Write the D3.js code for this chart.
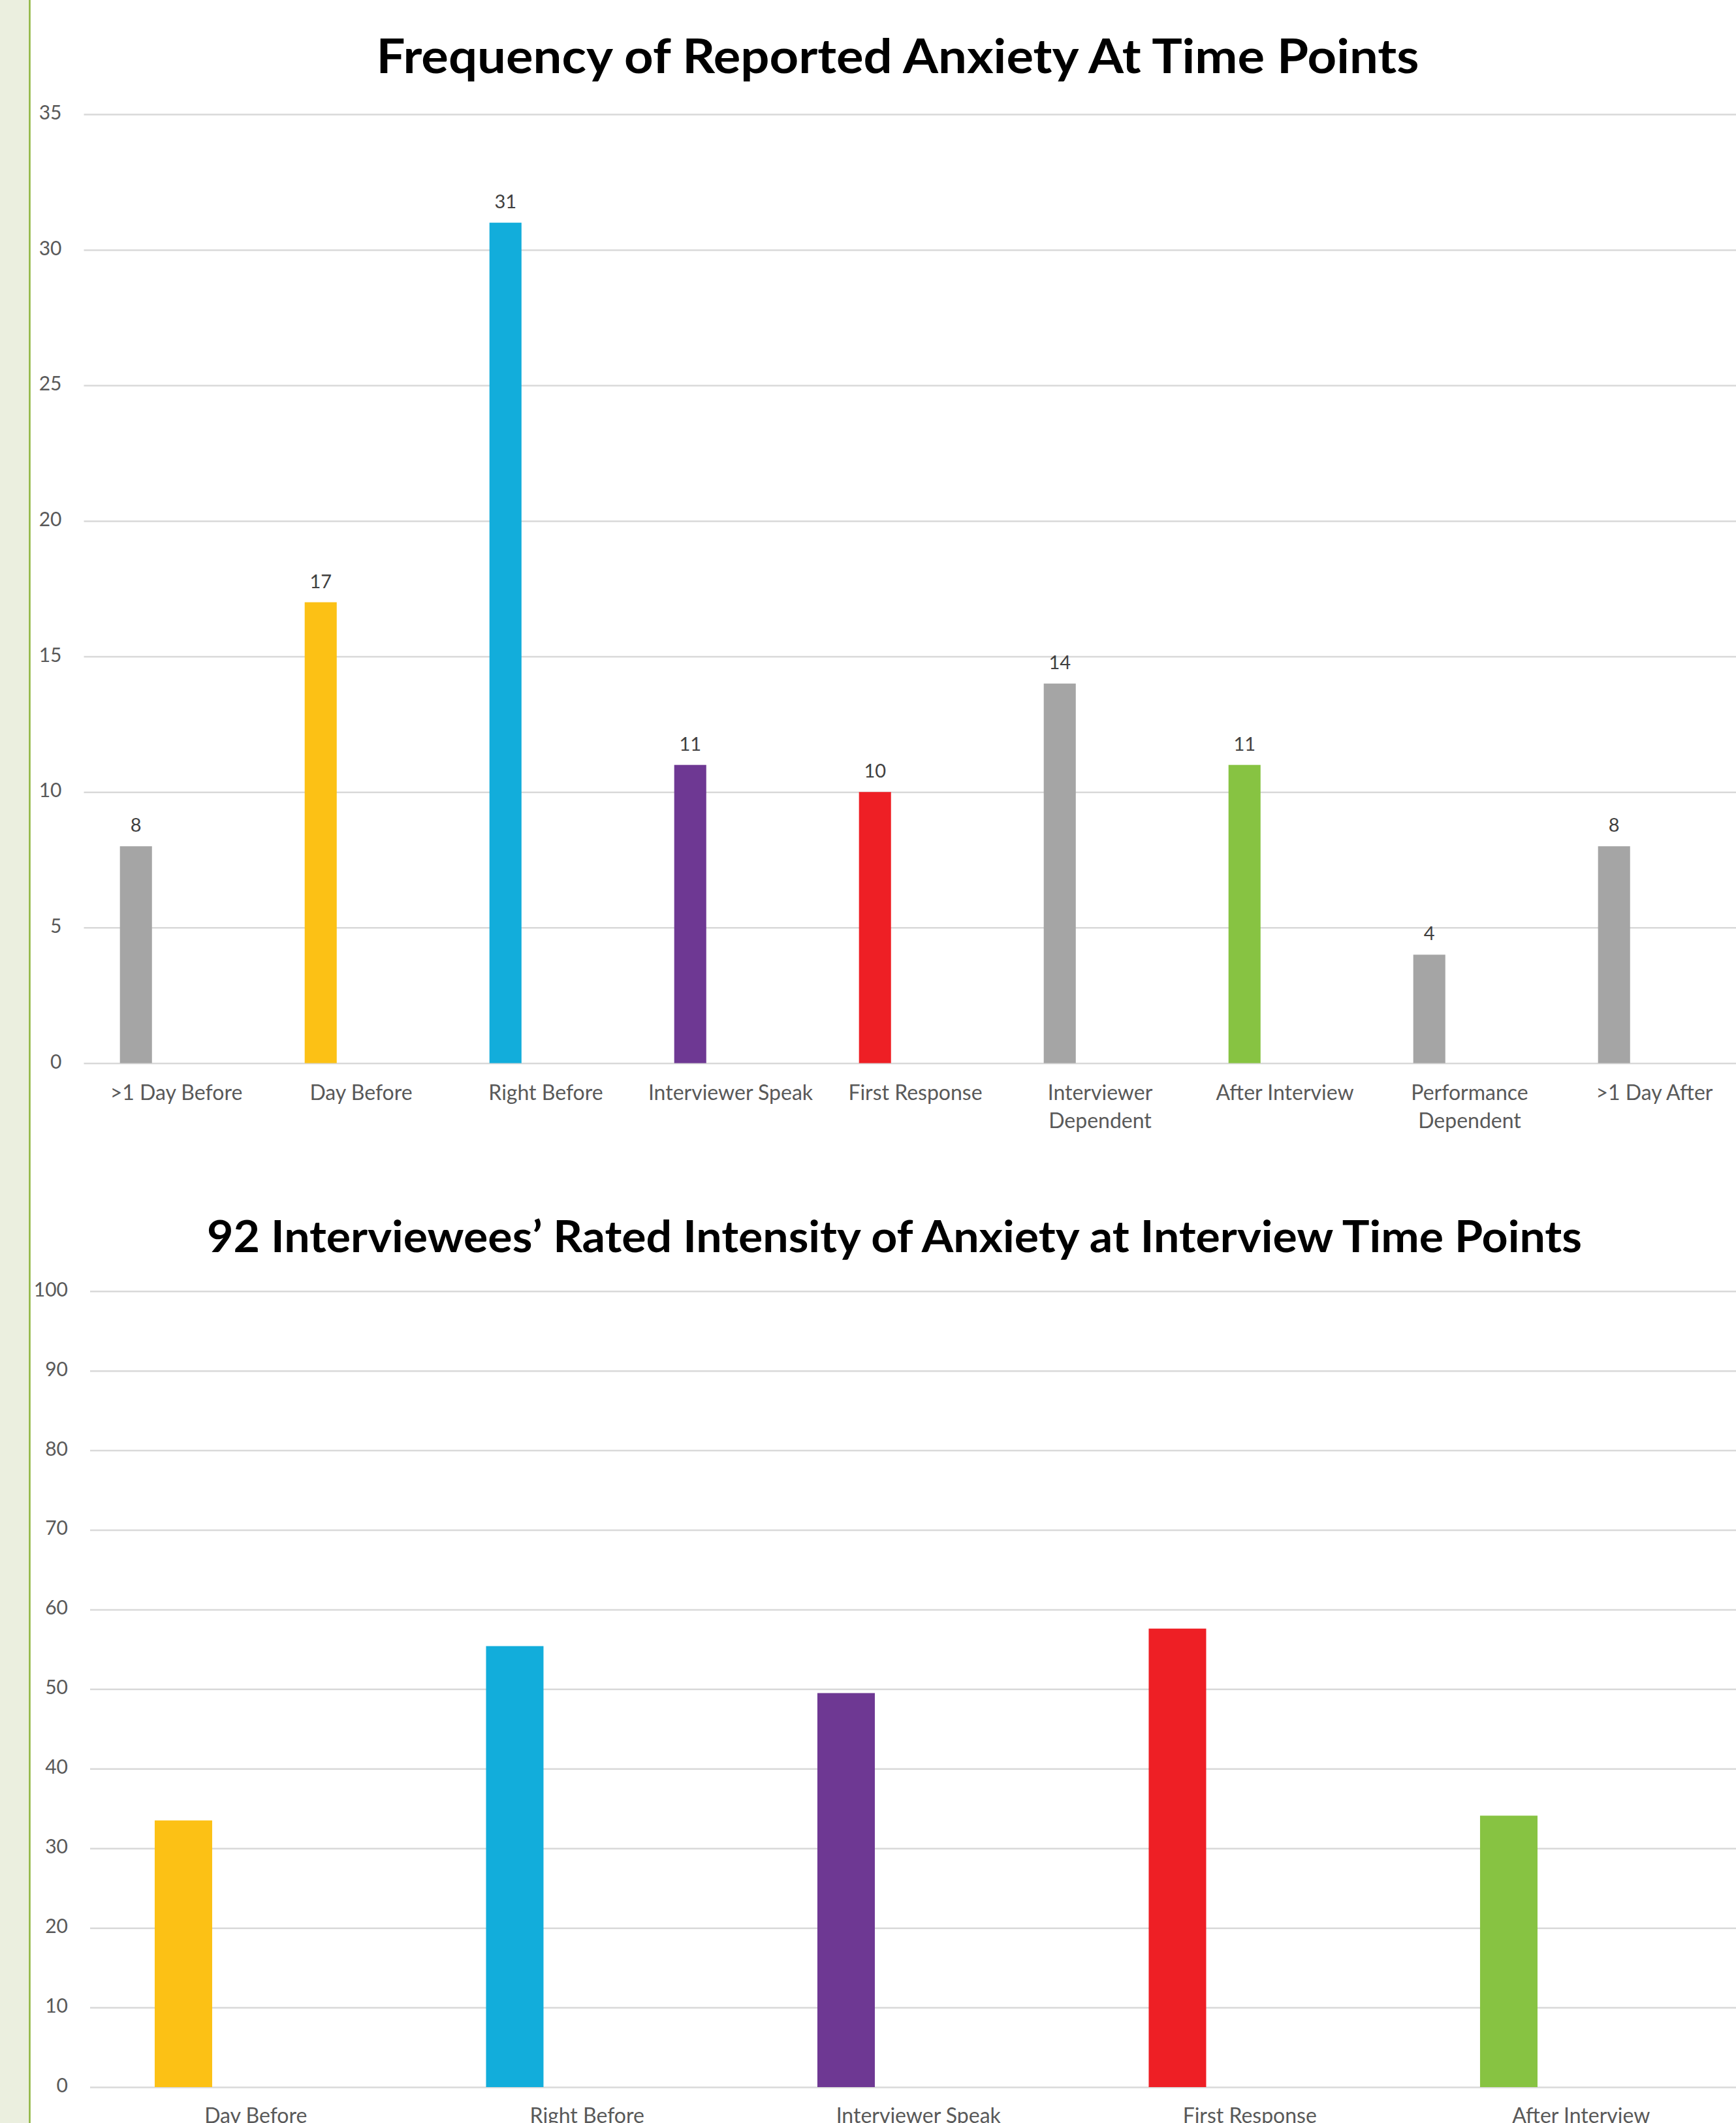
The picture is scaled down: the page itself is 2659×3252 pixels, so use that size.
<!DOCTYPE html>
<html>
<head>
<meta charset="utf-8">
<script src="https://cdn.jsdelivr.net/npm/d3@7"></script>
<style>
  body { margin: 0; background: #fff; }
  text { font-family: Lato, "Open Sans", sans-serif; }
</style>
</head>
<body>
<div id="chart"></div>
<script>

// top chart: how often anxiety was reported at each time point
var freqCategories = [">1 Day Before", "Day Before", "Right Before", "Interviewer Speak",
    "First Response", "Interviewer Dependent", "After Interview", "Performance Dependent", ">1 Day After"];
var freqValues = [8, 17, 31, 11, 10, 14, 11, 4, 8];
var freqColors = ["#A5A5A5", "#FCC115", "#12ADDB", "#6E3893", "#EE1F25", "#A5A5A5", "#87C342", "#A5A5A5", "#A5A5A5"];
var freqTicks = [0, 5, 10, 15, 20, 25, 30, 35];

// bottom chart: rated intensity (0-100)
var intensityCategories = ["Day Before", "Right Before", "Interviewer Speak", "First Response", "After Interview"];
var intensityValues = [33.5, 55.4, 49.5, 57.6, 34.1];
var intensityColors = ["#FCC115", "#12ADDB", "#6E3893", "#EE1F25", "#87C342"];
var intensityTicks = [0, 10, 20, 30, 40, 50, 60, 70, 80, 90, 100];

var W = 2659, H = 3252;

var svg = d3.select("#chart").append("svg")
    .attr("width", W)
    .attr("height", H);

// green side strip
svg.append("rect")
    .attr("x", 0).attr("y", 0)
    .attr("width", 45).attr("height", H)
    .attr("fill", "#EBEFDF");
svg.append("line")
    .attr("x1", 45.5).attr("x2", 45.5)
    .attr("y1", 0).attr("y2", H)
    .attr("stroke", "#8CB43C")
    .attr("stroke-width", 2.5);

function drawChart(cfg) {

    var g = svg.append("g");

    var x = d3.scaleBand()
        .domain(cfg.categories)
        .range([cfg.left, cfg.left + cfg.band * cfg.categories.length]);

    var y = d3.scaleLinear()
        .domain([0, cfg.max])
        .range([cfg.bottom, cfg.top]);

    var bw = x.bandwidth();

    // gridlines + tick labels via axis
    var yAxis = g.append("g")
        .attr("transform", "translate(" + cfg.left + ",0)")
        .call(d3.axisLeft(y).tickValues(cfg.ticks).tickSize(-(W - cfg.left)).tickPadding(cfg.tickPad));
    yAxis.select(".domain").remove();
    yAxis.selectAll(".tick line")
        .attr("stroke", "#D9D9D9")
        .attr("stroke-width", 2.5);
    yAxis.selectAll(".tick text")
        .attr("fill", "#595959")
        .style("font-size", "30px")
        .attr("dy", "0.25em");

    g.selectAll(".bar")
        .data(cfg.values)
        .enter().append("rect")
        .attr("class", "bar")
        .attr("x", function(d, i) { return x(cfg.categories[i]) + bw * 0.195; })
        .attr("width", bw * 0.1734)
        .attr("y", function(d) { return y(d); })
        .attr("height", function(d) { return y(0) - y(d); })
        .attr("fill", function(d, i) { return cfg.colors[i]; });

    if (cfg.dataLabels) {
        g.selectAll(".dlabel")
            .data(cfg.values)
            .enter().append("text")
            .attr("class", "dlabel")
            .attr("x", function(d, i) { return x(cfg.categories[i]) + bw * (0.195 + 0.0867); })
            .attr("y", function(d) { return y(d) - 22; })
            .attr("text-anchor", "middle")
            .attr("fill", "#404040")
            .style("font-size", "29px")
            .text(function(d) { return d; });
    }

    // category labels, wrapped when wider than the band
    var labels = g.selectAll(".xlabel")
        .data(cfg.categories)
        .enter().append("text")
        .attr("class", "xlabel")
        .attr("text-anchor", "middle")
        .attr("fill", "#595959")
        .style("font-size", "32px")
        .attr("x", function(d) { return x(d) + bw / 2; })
        .attr("y", cfg.labelY)
        .text(function(d) { return d; });

    labels.each(function(d) {
        var t = d3.select(this);
        if (this.getComputedTextLength() > bw * 0.98) {
            var cut = d.lastIndexOf(" ");
            t.text(null);
            t.append("tspan").attr("x", x(d) + bw / 2).text(d.slice(0, cut));
            t.append("tspan").attr("x", x(d) + bw / 2).attr("dy", 43).text(d.slice(cut + 1));
        }
    });

    svg.append("text")
        .attr("x", cfg.titleX)
        .attr("y", cfg.titleY)
        .attr("text-anchor", "middle")
        .attr("fill", "#000")
        .style("font-size", cfg.titleSize + "px")
        .style("font-weight", 700)
        .attr("textLength", cfg.titleLen)
        .attr("lengthAdjust", "spacingAndGlyphs")
        .text(cfg.title);
}

drawChart({
    categories: freqCategories,
    values: freqValues,
    colors: freqColors,
    ticks: freqTicks,
    max: 35,
    left: 128.5,
    band: 283,
    top: 175,
    bottom: 1628.5,
    tickPad: 34,
    dataLabels: true,
    labelY: 1685,
    title: "Frequency of Reported Anxiety At Time Points",
    titleX: 1375,
    titleY: 112,
    titleSize: 72,
    titleLen: 1597
});

drawChart({
    categories: intensityCategories,
    values: intensityValues,
    colors: intensityColors,
    ticks: intensityTicks,
    max: 100,
    left: 138,
    band: 507.5,
    top: 1977.7,
    bottom: 3197,
    tickPad: 34,
    dataLabels: false,
    labelY: 3252,
    title: "92 Interviewees\u2019 Rated Intensity of Anxiety at Interview Time Points",
    titleX: 1370,
    titleY: 1918,
    titleSize: 67,
    titleLen: 2106
});

</script>
</body>
</html>
